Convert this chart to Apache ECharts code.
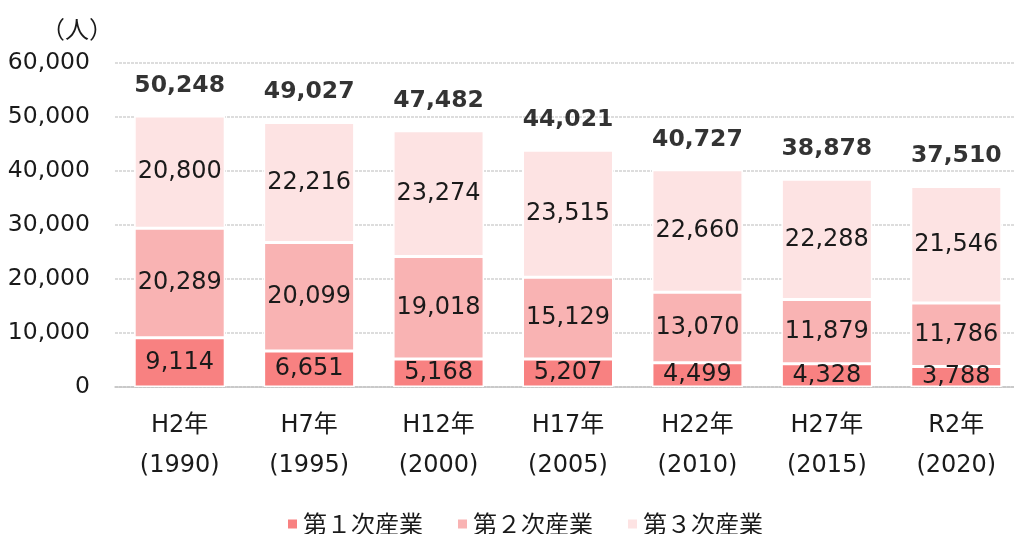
<!DOCTYPE html>
<html>
<head>
<meta charset="utf-8">
<script src="https://cdn.jsdelivr.net/npm/echarts@6/dist/echarts.min.js"></script>
<style>
  html, body { margin: 0; padding: 0; background: #fff; overflow: hidden; }
  #chart { width: 1021px; height: 534px; }
</style>
</head>
<body>
<div id="chart"></div>
<script>
// 年次
const eras = ['H2年', 'H7年', 'H12年', 'H17年', 'H22年', 'H27年', 'R2年'];
const years = ['1990', '1995', '2000', '2005', '2010', '2015', '2020'];

// 産業別就業者数（人）
const primary = [9114, 6651, 5168, 5207, 4499, 4328, 3788];
const secondary = [20289, 20099, 19018, 15129, 13070, 11879, 11786];
const tertiary = [20800, 22216, 23274, 23515, 22660, 22288, 21546];
// 総数（分類不能を含む）
const totals = [50248, 49027, 47482, 44021, 40727, 38878, 37510];

const yTicks = [0, 10000, 20000, 30000, 40000, 50000, 60000];

const FONT = "'DejaVu Sans', 'Noto Sans CJK JP', sans-serif";
const fmt = v => v.toLocaleString('en-US');

// 積み上げの上端（ラベル位置用）
const stackTop = primary.map((v, i) => v + secondary[i] + tertiary[i]);

const chart = echarts.init(document.getElementById('chart'));

function segment(name, data, color) {
  return {
    name: name,
    type: 'bar',
    stack: 'all',
    data: data,
    barWidth: 91,
    itemStyle: { color: color, borderColor: '#fff', borderWidth: 1.5 },
    label: {
      show: true,
      position: 'inside',
      color: '#1a1a1a',
      fontFamily: FONT,
      fontSize: 24,
      formatter: p => fmt(p.value)
    },
    emphasis: { disabled: true }
  };
}

chart.setOption({
  animation: false,
  grid: { left: 115, right: 0, top: 63, bottom: 147 },
  legend: {
    data: ['第１次産業', '第２次産業', '第３次産業'],
    left: 281,
    top: 507,
    icon: 'rect',
    itemWidth: 11,
    itemHeight: 11,
    itemGap: 33,
    textStyle: { fontFamily: "'Noto Sans CJK JP', sans-serif", fontSize: 24, color: '#1a1a1a' }
  },
  xAxis: {
    type: 'category',
    data: eras,
    axisTick: { show: false },
    axisLine: { lineStyle: { color: '#c4c4c4', width: 1.5, type: [3, 1] } },
    axisLabel: {
      margin: 19,
      lineHeight: 40,
      fontFamily: FONT,
      fontSize: 24,
      color: '#1a1a1a',
      formatter: (v, i) => v + '\n(' + years[i] + ')'
    }
  },
  yAxis: {
    type: 'value',
    min: yTicks[0],
    max: yTicks[yTicks.length - 1],
    interval: yTicks[1] - yTicks[0],
    name: '（人）',
    nameLocation: 'end',
    nameGap: 22,
    nameTextStyle: {
      align: 'right',
      padding: [0, 2, 0, 0],
      fontFamily: "'Noto Sans CJK JP', sans-serif",
      fontSize: 24,
      color: '#1a1a1a'
    },
    axisLine: { show: false },
    axisTick: { show: false },
    splitLine: { lineStyle: { color: '#d2d2d2', width: 1.5, type: [3, 1] } },
    axisLabel: {
      margin: 25,
      fontFamily: FONT,
      fontSize: 23.5,
      color: '#1a1a1a',
      formatter: v => fmt(v)
    }
  },
  series: [
    segment('第１次産業', primary, '#f88181'),
    segment('第２次産業', secondary, '#f9b3b3'),
    segment('第３次産業', tertiary, '#fde3e3'),
    {
      name: '総数',
      type: 'scatter',
      data: stackTop,
      symbol: 'rect',
      symbolSize: 1,
      itemStyle: { color: 'rgba(0,0,0,0)' },
      silent: true,
      label: {
        show: true,
        position: 'top',
        distance: 18,
        color: '#000',
        fontFamily: FONT,
        fontWeight: 'bold',
        fontSize: 23.5,
        formatter: p => fmt(totals[p.dataIndex])
      }
    }
  ]
});
</script>
</body>
</html>
